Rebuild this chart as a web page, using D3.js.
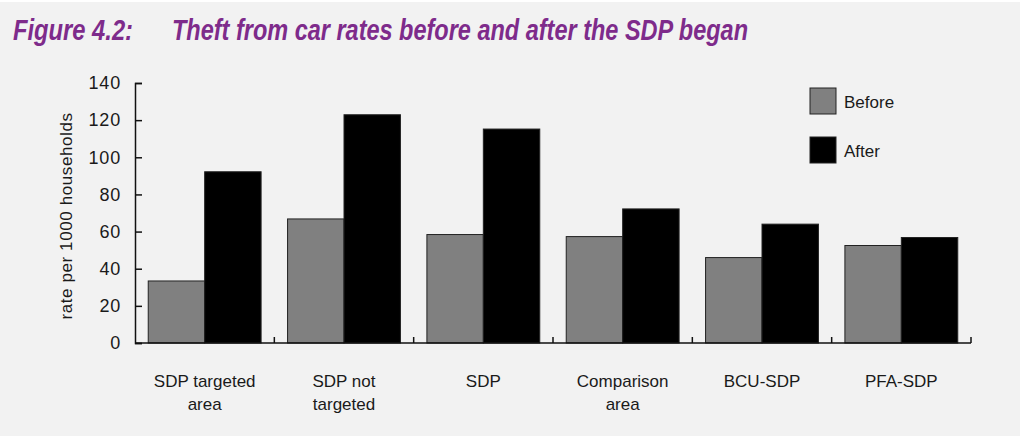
<!DOCTYPE html>
<html>
<head>
<meta charset="utf-8">
<script src="https://cdn.jsdelivr.net/npm/d3@7"></script>
<style>
  body { margin: 0; background: #f2f2f2; }
  svg { display: block; }
  text { font-family: "Liberation Sans", Arial, sans-serif; fill: #1a1a1a; }
</style>
</head>
<body>
<div id="chart"></div>
<script>
const categories = [
  ['SDP targeted', 'area'],
  ['SDP not', 'targeted'],
  ['SDP'],
  ['Comparison', 'area'],
  ['BCU-SDP'],
  ['PFA-SDP']
];
const seriesNames = ['Before', 'After'];
const beforeValues = [33.4, 66.8, 58.4, 57.3, 46, 52.5];
const afterValues = [92.2, 122.9, 115.2, 72.2, 64, 56.8];
const yTicks = [0, 20, 40, 60, 80, 100, 120, 140];

const colors = { Before: '#808080', After: '#000000' };
const width = 1020;
const height = 436;
const margin = { left: 135, right: 49, top: 83, bot: 93 };
const innerW = width - margin.left - margin.right;
const innerH = height - margin.top - margin.bot;

const svg = d3.select('#chart')
  .append('svg')
  .attr('width', width)
  .attr('height', height);

svg.append('rect')
  .attr('width', width)
  .attr('height', height)
  .attr('fill', '#f2f2f2');
svg.append('rect')
  .attr('width', width)
  .attr('height', 2)
  .attr('fill', '#ffffff');

// title
const title = svg.append('g')
  .style('font-weight', 'bold')
  .style('font-style', 'italic');
title.append('text')
  .attr('x', 13).attr('y', 40)
  .attr('font-size', 29)
  .attr('textLength', 120)
  .attr('lengthAdjust', 'spacingAndGlyphs')
  .style('fill', '#7e2b8b')
  .text('Figure 4.2:');
title.append('text')
  .attr('x', 172).attr('y', 40)
  .attr('font-size', 29)
  .attr('textLength', 576)
  .attr('lengthAdjust', 'spacingAndGlyphs')
  .style('fill', '#7e2b8b')
  .text('Theft from car rates before and after the SDP began');

const g = svg.append('g')
  .attr('transform', `translate(${margin.left}, ${margin.top})`);

const xScale = d3.scaleBand()
  .domain(d3.range(categories.length))
  .range([0, innerW])
  .paddingInner(0.19)
  .paddingOuter(0.095);

const xInner = d3.scaleBand()
  .domain(seriesNames)
  .range([0, xScale.bandwidth()]);

const yScale = d3.scaleLinear()
  .domain([0, 140])
  .range([innerH, 0]);

// bars
const groups = g.selectAll('.group')
  .data(categories.map((c, i) => ({ i, values: [
    { key: 'Before', value: beforeValues[i] },
    { key: 'After', value: afterValues[i] }
  ] })))
  .enter()
  .append('g')
  .attr('class', 'group')
  .attr('transform', (d) => `translate(${xScale(d.i)}, 0)`);

groups.selectAll('rect')
  .data((d) => d.values)
  .enter()
  .append('rect')
  .attr('x', (d) => xInner(d.key))
  .attr('y', (d) => yScale(d.value))
  .attr('width', xInner.bandwidth())
  .attr('height', (d) => innerH - yScale(d.value))
  .attr('fill', (d) => colors[d.key])
  .attr('stroke', '#222')
  .attr('stroke-width', 1);

// y axis
const yAxis = g.append('g')
  .call(d3.axisLeft(yScale).tickValues(yTicks).tickSize(-7).tickPadding(14));
yAxis.select('.domain').attr('stroke', '#111').attr('stroke-width', 1.5);
yAxis.selectAll('.tick line').attr('stroke', '#111').attr('stroke-width', 1.5);
yAxis.selectAll('.tick text')
  .attr('font-size', 18)
  .attr('letter-spacing', 0.8)
  .style('font-family', '"Liberation Sans", Arial, sans-serif')
  .attr('fill', '#1a1a1a');

// x axis baseline + separator ticks
const bounds = d3.range(categories.length + 1).map((k) => k * innerW / categories.length);
g.append('line')
  .attr('x1', 0).attr('x2', innerW)
  .attr('y1', innerH).attr('y2', innerH)
  .attr('stroke', '#111').attr('stroke-width', 1.5);
g.selectAll('.xsep')
  .data(bounds.slice(1))
  .enter()
  .append('line')
  .attr('class', 'xsep')
  .attr('x1', (d) => d).attr('x2', (d) => d)
  .attr('y1', innerH).attr('y2', innerH - 6)
  .attr('stroke', '#111').attr('stroke-width', 1.5);

// category labels
const labels = g.selectAll('.xlabel')
  .data(categories)
  .enter()
  .append('text')
  .attr('class', 'xlabel')
  .attr('text-anchor', 'middle')
  .attr('font-size', 17)
  .attr('transform', (d, i) => `translate(${xScale(i) + xScale.bandwidth() / 2}, ${innerH + 44})`);
labels.selectAll('tspan')
  .data((d) => d)
  .enter()
  .append('tspan')
  .attr('x', 0)
  .attr('y', (d, j) => j * 23)
  .text((d) => d);

// y axis title
svg.append('text')
  .attr('transform', `translate(72, ${margin.top + innerH / 2 + 3}) rotate(-90)`)
  .attr('text-anchor', 'middle')
  .attr('font-size', 17)
  .attr('letter-spacing', 0.6)
  .text('rate per 1000 households');

// legend
const legend = svg.append('g')
  .attr('transform', 'translate(810, 88)');
const items = legend.selectAll('g')
  .data(seriesNames)
  .enter()
  .append('g')
  .attr('transform', (d, i) => `translate(0, ${i * 49})`);
items.append('rect')
  .attr('width', 26).attr('height', 26)
  .attr('fill', (d) => colors[d])
  .attr('stroke', '#222').attr('stroke-width', 1);
items.append('text')
  .attr('x', 34).attr('y', 20)
  .attr('font-size', 17)
  .text((d) => d);
</script>
</body>
</html>
